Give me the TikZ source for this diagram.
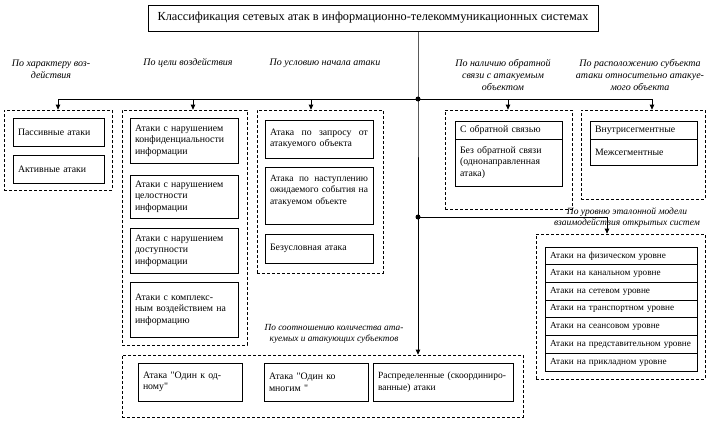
\documentclass[tikz,border=0pt]{standalone}
\usepackage{fontspec}
\setmainfont{Liberation Serif}[Ligatures=TeXOff]
\usetikzlibrary{arrows.meta}
\tikzset{
 grp/.style={draw, dash pattern=on 3pt off 2pt, line width=0.7pt, inner sep=0pt},
 bx/.style={draw, line width=0.8pt, inner xsep=5pt, inner ysep=1pt, align=left,
   font=\fontsize{9.8}{11.6}\selectfont},
 rowbx/.style={draw, line width=0.8pt, inner xsep=5pt, inner ysep=0pt, align=left,
   minimum width=152pt, minimum height=17.7pt, text width=142pt,
   font=\fontsize{9.2}{10}\selectfont},
 lbl/.style={font=\fontsize{10}{12}\selectfont\itshape, align=center, inner sep=0pt},
 conn/.style={line width=0.8pt},
 arr/.style={conn, -{Triangle[length=5pt,width=4.5pt]}},
 dot/.style={circle, fill, inner sep=0pt, minimum size=5pt},
}
\begin{document}
\begin{tikzpicture}[x=1pt,y=-1pt]
\useasboundingbox (0,0) rectangle (710,423);
% title
\node[draw, line width=0.8pt, minimum width=450pt, minimum height=26pt, inner sep=0pt,
  font=\fontsize{12.3}{14}\selectfont] (title) at (373,18)
  {Классификация сетевых атак в информационно-телекоммуникационных системах};
% groups
\node[grp, minimum width=108pt, minimum height=80pt] (g1) at (58,150) {};
\node[grp, minimum width=125pt, minimum height=235pt] (g2) at (184.5,227.5) {};
\node[grp, minimum width=126pt, minimum height=163pt] (g3) at (320,191.5) {};
\node[grp, minimum width=127pt, minimum height=99pt] (g4) at (508.5,159.5) {};
\node[grp, minimum width=124pt, minimum height=89pt] (g5) at (643,154.5) {};
\node[grp, minimum width=169pt, minimum height=145pt] (g6) at (620.5,306.5) {};
\node[grp, minimum width=401pt, minimum height=62pt] (g7) at (322.5,386) {};
% group 1
\node[bx, minimum width=91pt, minimum height=28pt, text width=81pt] (b11) at (58.5,132) {Пассивные атаки};
\node[bx, minimum width=91pt, minimum height=28pt, text width=81pt] (b12) at (58.5,169) {Активные атаки};
% group 2
\node[bx, minimum width=108pt, minimum height=45pt, text width=98pt] (b21) at (184,140.5)
  {Атаки с нарушением\\конфиденциальности\\информации};
\node[bx, minimum width=108pt, minimum height=43pt, text width=98pt] (b22) at (184,196.5)
  {Атаки с нарушением\\целостности\\информации};
\node[bx, minimum width=108pt, minimum height=45pt, text width=98pt] (b23) at (184,250.5)
  {Атаки с нарушением\\доступности\\информации};
\node[bx, minimum width=108pt, minimum height=55pt, text width=98pt] (b24) at (184,309.5)
  {Атаки с комплекс-\\ным воздействием на\\информацию};
% group 3
\node[bx, minimum width=108pt, minimum height=38pt, text width=98pt] (b31) at (319,139)
  {Атака\hfill по\hfill запросу\hfill от\\атакуемого объекта};
\node[bx, minimum width=108pt, minimum height=57pt, text width=98pt,
  font=\fontsize{9.5}{11.6}\selectfont] (b32) at (319,195.5)
  {Атака\hfill по\hfill наступлению\\ожидаемого\hfill события\hfill на\\атакуемом объекте\\ \mbox{}};
\node[bx, minimum width=108pt, minimum height=29pt, text width=98pt] (b33) at (319,248.5)
  {Безусловная атака};
% group 4
\node[bx, minimum width=107pt, minimum height=18pt, text width=97pt] (b41) at (508.5,130)
  {С обратной связью};
\node[bx, minimum width=107pt, minimum height=47pt, text width=97pt] (b42) at (508.5,162.5)
  {Без обратной связи\\(однонаправленная\\атака)};
% group 5
\node[bx, minimum width=107pt, minimum height=18pt, text width=97pt] (b51) at (643.5,130)
  {Внутрисегментные};
\node[bx, minimum width=107pt, minimum height=26pt, text width=97pt] (b52) at (643.5,152)
  {Межсегментные};
% group 6
\node[rowbx] (b61) at (621,255.85) {Атаки на физическом уровне};
\node[rowbx] (b62) at (621,273.55) {Атаки на канальном уровне};
\node[rowbx] (b63) at (621,291.25) {Атаки на сетевом уровне};
\node[rowbx] (b64) at (621,308.95) {Атаки на транспортном уровне};
\node[rowbx] (b65) at (621,326.65) {Атаки на сеансовом уровне};
\node[rowbx] (b66) at (621,344.35) {Атаки на представительном уровне};
\node[rowbx] (b67) at (621,362.05) {Атаки на прикладном уровне};
% group 7
\node[bx, minimum width=104pt, minimum height=38pt, text width=94pt] (b71) at (190,382)
  {Атака "Один к од-\\ному"};
\node[bx, minimum width=104pt, minimum height=38pt, text width=94pt] (b72) at (316,382)
  {Атака "Один ко\\многим "};
\node[bx, minimum width=140pt, minimum height=38pt, text width=130pt,
  font=\fontsize{9.5}{11.6}\selectfont] (b73) at (443,382)
  {Распределенные (скоординиро-\\ванные) атаки};
% labels
\node[lbl] (l1) at (51,69) {По характеру воз-\\действия};
\node[lbl] (l2) at (188,63) {По цели воздействия};
\node[lbl] (l3) at (325,63) {По условию начала атаки};
\node[lbl] (l4) at (503,75) {По наличию обратной\\связи с атакуемым\\объектом};
\node[lbl] (l5) at (640,75) {По расположению субъекта\\атаки относительно атакуе-\\мого объекта};
\node[lbl, font=\fontsize{9.5}{10.8}\selectfont\itshape] (l6) at (627,217.5)
  {По уровню эталонной модели\\взаимодействия открытых систем};
\node[lbl, font=\fontsize{9.3}{11}\selectfont\itshape] (l7) at (334,333.5)
  {По соотношению количества ата-\\куемых и атакующих субъектов};
% connectors
\coordinate (d1) at (418,99);
\coordinate (d2) at (418,217);
\coordinate (a1) at (58,99);
\coordinate (a2) at (193,99);
\coordinate (a3) at (311,99);
\coordinate (a4) at (508,99);
\coordinate (a5) at (652,99);
\coordinate (c6) at (607,217);
\draw[conn] (title.south -| d1) -- (d1) -- (d2);
\draw[arr] (d2) -- (d2 |- g7.north);
\draw[conn] (a1) -- (a5);
\draw[arr] (a1) -- (a1 |- g1.north);
\draw[arr] (a2) -- (a2 |- g2.north);
\draw[arr] (a3) -- (a3 |- g3.north);
\draw[arr] (a4) -- (a4 |- g4.north);
\draw[arr] (a5) -- (a5 |- g5.north);
\draw[arr] (d2) -- (c6) -- (c6 |- g6.north);
\node[dot] (p1) at (d1) {};
\node[dot] (p2) at (d2) {};
\end{tikzpicture}
\end{document}
